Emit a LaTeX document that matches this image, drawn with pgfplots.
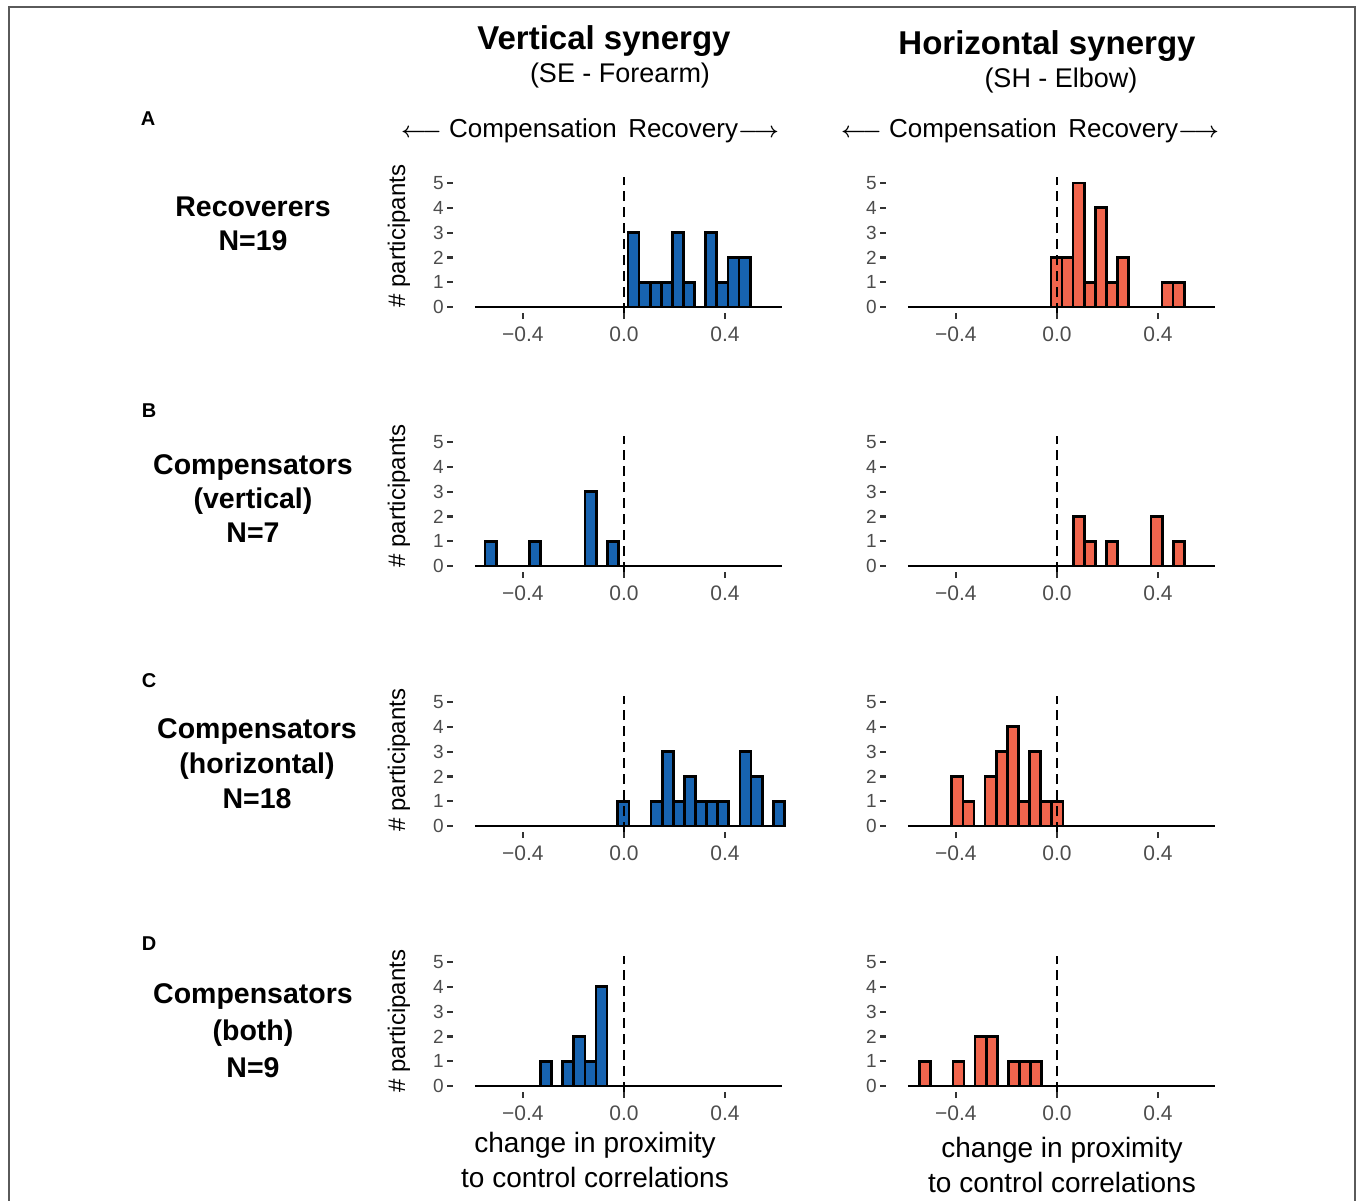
\RequirePackage{fix-cm}
\documentclass[border=0pt]{standalone}
\usepackage{pgfplots}
\pgfplotsset{compat=1.18}
\usepackage{fontspec}
\setmainfont{Liberation Sans}

\definecolor{barblue}{RGB}{23,99,176}
\definecolor{barred}{RGB}{241,101,77}
\definecolor{tickc}{RGB}{51,51,51}
\definecolor{labc}{RGB}{77,77,77}
\definecolor{framec}{RGB}{90,90,90}

% one histogram panel: 1 = colour, 2 = bars (bin centre, count)
\pgfplotsset{panel/.style={
    scale only axis, anchor=south west,
    width=331.5pt, height=136.4pt,
    xmin=-0.677, xmax=0.636, ymin=-0.25, ymax=5.25,
    clip=false,
    axis line style={draw=none},
    xtick={-0.4,0,0.4}, xticklabels={−0.4,0.0,0.4},
    ytick={0,1,2,3,4,5}, yticklabels={0,1,2,3,4,5},
    xtick pos=left, ytick pos=left,
    tick align=outside, major tick length=6pt,
    tick style={draw=tickc, line width=2.2pt},
    xticklabel style={font=\fontsize{21}{21}\selectfont, text=labc, inner sep=0pt, yshift=-7pt},
    yticklabel style={font=\fontsize{19}{19}\selectfont, text=labc, inner sep=0pt, xshift=-3pt},
}}

\newcommand{\hist}[4]{%
  \begin{axis}[panel, at={(#1pt,-#2pt)}]
    \addplot[ybar, bar width=0.044, bar shift=0, fill=#3, draw=black, line width=2.7pt] coordinates {#4};
    \addplot[black, line width=2.8pt] coordinates {(-0.59,0) (0.627,0)};
    \addplot[black, line width=2.8pt, dash pattern=on 10pt off 6pt] coordinates {(0,-0.25) (0,5.25)};
  \end{axis}}

\newcommand{\comprec}{{\fontsize{22}{22}\selectfont\boldmath$\longleftarrow$}\ Compensation\, Recovery{\fontsize{22}{22}\selectfont\boldmath$\longrightarrow$}}

\begin{document}
\begin{tikzpicture}
\useasboundingbox (0pt,0pt) rectangle (1357pt,-1201pt);
\draw[framec, line width=1.5pt] (9pt,-1210pt) -- (9pt,-7pt) -- (1355pt,-7pt) -- (1355pt,-1210pt);

% column headers
\node[font=\fontsize{33}{33}\selectfont\bfseries] at (604pt,-41pt) {Vertical synergy};
\node[font=\fontsize{27}{27}\selectfont] at (620pt,-76pt) {(SE - Forearm)};
\node[font=\fontsize{33}{33}\selectfont\bfseries] at (1047pt,-46pt) {Horizontal synergy};
\node[font=\fontsize{27}{27}\selectfont] at (1061pt,-81pt) {(SH - Elbow)};
\node[font=\fontsize{26}{26}\selectfont] at (590pt,-131pt) {\comprec};
\node[font=\fontsize{26}{26}\selectfont] at (1030pt,-131pt) {\comprec};

% panel letters
\node[font=\fontsize{20}{20}\selectfont\bfseries] at (148pt,-119pt) {A};
\node[font=\fontsize{20}{20}\selectfont\bfseries] at (149pt,-411pt) {B};
\node[font=\fontsize{20}{20}\selectfont\bfseries] at (149pt,-681pt) {C};
\node[font=\fontsize{20}{20}\selectfont\bfseries] at (149pt,-944pt) {D};

% row labels
\node[font=\fontsize{28.5}{34}\selectfont\bfseries, align=center] at (253pt,-224pt) {Recoverers\\N=19};
\node[font=\fontsize{28.5}{34}\selectfont\bfseries, align=center] at (253pt,-499pt) {Compensators\\(vertical)\\N=7};
\node[font=\fontsize{28.5}{35}\selectfont\bfseries, align=center] at (257pt,-764pt) {Compensators\\(horizontal)\\N=18};
\node[font=\fontsize{28.5}{37}\selectfont\bfseries, align=center] at (253pt,-1031pt) {Compensators\\(both)\\N=9};

% y axis titles
\foreach \yy in {236,496,760,1021}
  \node[font=\fontsize{24}{24}\selectfont, rotate=90] at (399pt,-\yy pt) {\# participants};

% x axis titles
\node[font=\fontsize{28}{35}\selectfont, align=center] at (595pt,-1160pt) {change in proximity\\to control correlations};
\node[font=\fontsize{28}{35}\selectfont, align=center] at (1062pt,-1165pt) {change in proximity\\to control correlations};

% A
\hist{453}{313.2}{barblue}{(0.038,3) (0.082,1) (0.126,1) (0.170,1) (0.214,3) (0.258,1) (0.346,3) (0.390,1) (0.434,2) (0.478,2)}
\hist{886}{313.2}{barred}{(-0.002,2) (0.042,2) (0.086,5) (0.130,1) (0.174,4) (0.218,1) (0.262,2) (0.438,1) (0.482,1)}
% B
\hist{453}{572.2}{barblue}{(-0.528,1) (-0.352,1) (-0.132,3) (-0.044,1)}
\hist{886}{572.2}{barred}{(0.087,2) (0.131,1) (0.219,1) (0.395,2) (0.483,1)}
% C
\hist{453}{832.2}{barblue}{(-0.0025,1) (0.1295,1) (0.1735,3) (0.2175,1) (0.2615,2) (0.3055,1) (0.3495,1) (0.3935,1) (0.4815,3) (0.5255,2) (0.6135,1)}
\hist{886}{832.2}{barred}{(-0.3944,2) (-0.3504,1) (-0.2624,2) (-0.2184,3) (-0.1744,4) (-0.1304,1) (-0.0864,3) (-0.0424,1) (0.0016,1)}
% D
\hist{453}{1092.2}{barblue}{(-0.3085,1) (-0.2205,1) (-0.1765,2) (-0.1325,1) (-0.0885,4)}
\hist{886}{1092.2}{barred}{(-0.522,1) (-0.390,1) (-0.302,2) (-0.258,2) (-0.170,1) (-0.126,1) (-0.082,1)}
\end{tikzpicture}
\end{document}
